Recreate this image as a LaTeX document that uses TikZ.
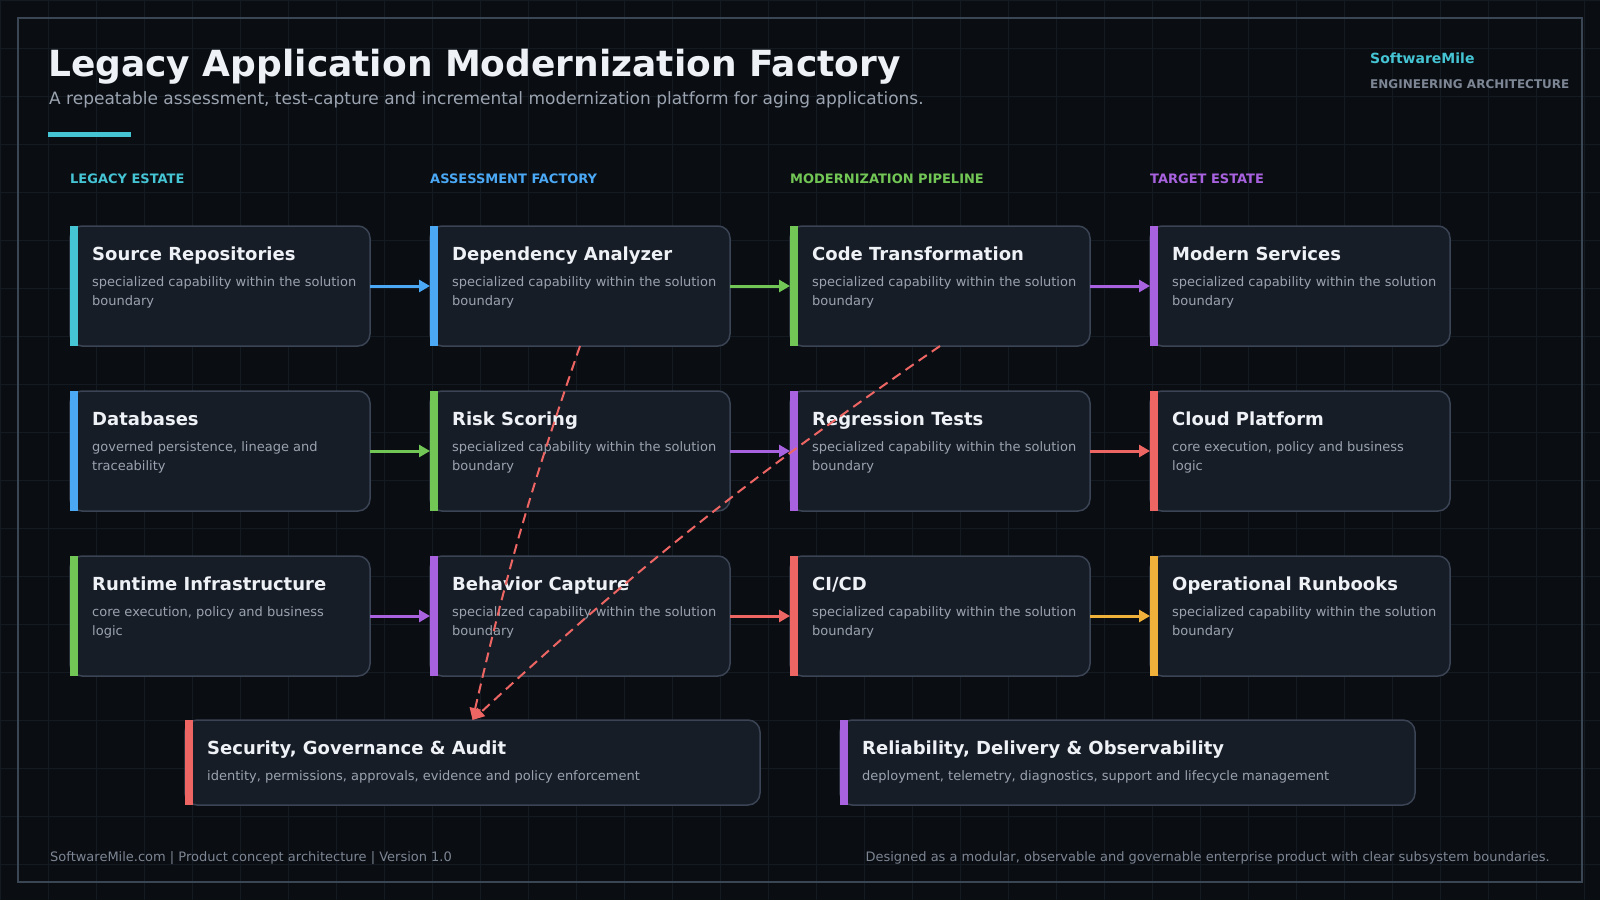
\documentclass[tikz,border=0pt]{standalone}
\usepackage{fontspec}
\setmainfont{DejaVu Sans}
\usetikzlibrary{positioning, arrows.meta}

\definecolor{bg}{HTML}{0A0D12}
\definecolor{gridcol}{HTML}{141A22}
\definecolor{framecol}{HTML}{3B4655}
\definecolor{cardbg}{HTML}{171D27}
\definecolor{cardline}{HTML}{3A4454}
\definecolor{titlecol}{HTML}{EEF1F5}
\definecolor{desccol}{HTML}{9AA3AF}
\definecolor{footcol}{HTML}{7D8694}
\definecolor{cyanc}{HTML}{45C4D4}
\definecolor{bluec}{HTML}{4AA8F5}
\definecolor{greenc}{HTML}{72C655}
\definecolor{purplec}{HTML}{A962DF}
\definecolor{redc}{HTML}{EE6663}
\definecolor{orangec}{HTML}{F0B13B}

\tikzset{
	card/.style={draw=cardline, fill=cardbg, line width=1.5pt, rounded corners=12pt, minimum width=300pt, minimum height=120pt, inner sep=0pt, outer sep=0pt}, % one capability box
	widecard/.style={card, minimum width=575pt, minimum height=85pt}, % cross-cutting boxes at the bottom
	cardtitle/.style={anchor=base west, inner sep=0pt, text=titlecol, font=\fontsize{18}{22}\selectfont\bfseries},
	carddesc/.style={anchor=base west, inner sep=0pt, text=desccol, font=\fontsize{13}{19.2}\selectfont},
	colhead/.style={anchor=base west, inner sep=0pt, font=\fontsize{13}{16}\selectfont\bfseries},
	foot/.style={inner sep=0pt, text=footcol, font=\fontsize{13}{16}\selectfont},
	flow/.style={line width=3pt, -{Triangle[length=11pt,width=12pt]}}, % solid arrow between boxes
	link/.style={redc, line width=2pt, dash pattern=on 10pt off 6pt, -{Triangle[length=12pt,width=11pt]}}, % dashed control link
}

% coloured strip on the left side of a box
\newcommand{\stripe}[2]{\fill[#2] (#1.north west) rectangle ([xshift=8pt]#1.south west);}
% title and description inside a box (description baseline = first line)
\newcommand{\cardtext}[3]{%
	\node[cardtitle] (#1-title) at ([shift={(22pt,-34pt)}]#1.north west) {#2};
	\node[carddesc] (#1-desc) at ([shift={(22pt,-60.5pt)}]#1.north west) {\parbox[t]{540pt}{\raggedright #3}};}

\begin{document}
\begin{tikzpicture}[x=1pt, y=-1pt]
	\useasboundingbox (0,0) rectangle (1600,900);
	\fill[bg] (0,0) rectangle (1600,900);
	\foreach \gx in {0,48,...,1600} \draw[gridcol, line width=1pt] (\gx,0) -- (\gx,900);
	\foreach \gy in {0,48,...,900} \draw[gridcol, line width=1pt] (0,\gy) -- (1600,\gy);
	\draw[framecol, line width=2pt] (18,18) rectangle (1582,882);

	% header
	\node[anchor=base west, inner sep=0pt, text=titlecol, font=\fontsize{36}{40}\selectfont\bfseries] (title) at (48,76.5) {Legacy Application Modernization Factory};
	\node[anchor=base west, inner sep=0pt, text=desccol, font=\fontsize{17}{20}\selectfont] (subtitle) at (49,104) {A repeatable assessment, test-capture and incremental modernization platform for aging applications.};
	\fill[cyanc] (48,132) rectangle (131,136.5);
	\node[anchor=base west, inner sep=0pt, text=cyanc, font=\fontsize{14}{16}\selectfont\bfseries] (brand) at (1370,63) {SoftwareMile};
	\node[anchor=base west, inner sep=0pt, text=footcol, font=\fontsize{12}{14}\selectfont\bfseries] (brandsub) at (1370,88) {ENGINEERING ARCHITECTURE};

	% column headings
	\node[colhead, text=cyanc] (h1) at (70,183) {LEGACY ESTATE};
	\node[colhead, text=bluec] (h2) at (430,183) {ASSESSMENT FACTORY};
	\node[colhead, text=greenc] (h3) at (790,183) {MODERNIZATION PIPELINE};
	\node[colhead, text=purplec] (h4) at (1150,183) {TARGET ESTATE};

	% boxes
	\node[card, anchor=north west] (src) at (70,226) {};
	\node[card, below=45pt of src] (db) {};
	\node[card, below=45pt of db] (rt) {};
	\node[card, right=60pt of src] (dep) {};
	\node[card, right=60pt of db] (risk) {};
	\node[card, right=60pt of rt] (beh) {};
	\node[card, right=60pt of dep] (code) {};
	\node[card, right=60pt of risk] (reg) {};
	\node[card, right=60pt of beh] (cicd) {};
	\node[card, right=60pt of code] (mod) {};
	\node[card, right=60pt of reg] (cloud) {};
	\node[card, right=60pt of cicd] (ops) {};
	\node[widecard, anchor=north west] (sec) at (185,720) {};
	\node[widecard, right=80pt of sec] (rel) {};

	\stripe{src}{cyanc} \stripe{db}{bluec} \stripe{rt}{greenc}
	\stripe{dep}{bluec} \stripe{risk}{greenc} \stripe{beh}{purplec}
	\stripe{code}{greenc} \stripe{reg}{purplec} \stripe{cicd}{redc}
	\stripe{mod}{purplec} \stripe{cloud}{redc} \stripe{ops}{orangec}
	\stripe{sec}{redc} \stripe{rel}{purplec}

	\cardtext{src}{Source Repositories}{specialized capability within the solution\\boundary}
	\cardtext{db}{Databases}{governed persistence, lineage and\\traceability}
	\cardtext{rt}{Runtime Infrastructure}{core execution, policy and business\\logic}
	\cardtext{dep}{Dependency Analyzer}{specialized capability within the solution\\boundary}
	\cardtext{risk}{Risk Scoring}{specialized capability within the solution\\boundary}
	\cardtext{beh}{Behavior Capture}{specialized capability within the solution\\boundary}
	\cardtext{code}{Code Transformation}{specialized capability within the solution\\boundary}
	\cardtext{reg}{Regression Tests}{specialized capability within the solution\\boundary}
	\cardtext{cicd}{CI/CD}{specialized capability within the solution\\boundary}
	\cardtext{mod}{Modern Services}{specialized capability within the solution\\boundary}
	\cardtext{cloud}{Cloud Platform}{core execution, policy and business\\logic}
	\cardtext{ops}{Operational Runbooks}{specialized capability within the solution\\boundary}
	\cardtext{sec}{Security, Governance \& Audit}{identity, permissions, approvals, evidence and policy enforcement}
	\cardtext{rel}{Reliability, Delivery \& Observability}{deployment, telemetry, diagnostics, support and lifecycle management}

	% flows
	\draw[flow, bluec] (src) -- (dep);
	\draw[flow, greenc] (dep) -- (code);
	\draw[flow, purplec] (code) -- (mod);
	\draw[flow, greenc] (db) -- (risk);
	\draw[flow, purplec] (risk) -- (reg);
	\draw[flow, redc] (reg) -- (cloud);
	\draw[flow, purplec] (rt) -- (beh);
	\draw[flow, redc] (beh) -- (cicd);
	\draw[flow, orangec] (cicd) -- (ops);

	% control links
	\draw[link] (dep.south) to[bend right=3] (sec.north);
	\draw[link] (code.south) to[bend right=4] (sec.north);

	% footer
	\node[foot, anchor=base west] (footl) at (50,861) {SoftwareMile.com | Product concept architecture | Version 1.0};
	\node[foot, anchor=base east] (footr) at (1550,861) {Designed as a modular, observable and governable enterprise product with clear subsystem boundaries.};
\end{tikzpicture}
\end{document}
